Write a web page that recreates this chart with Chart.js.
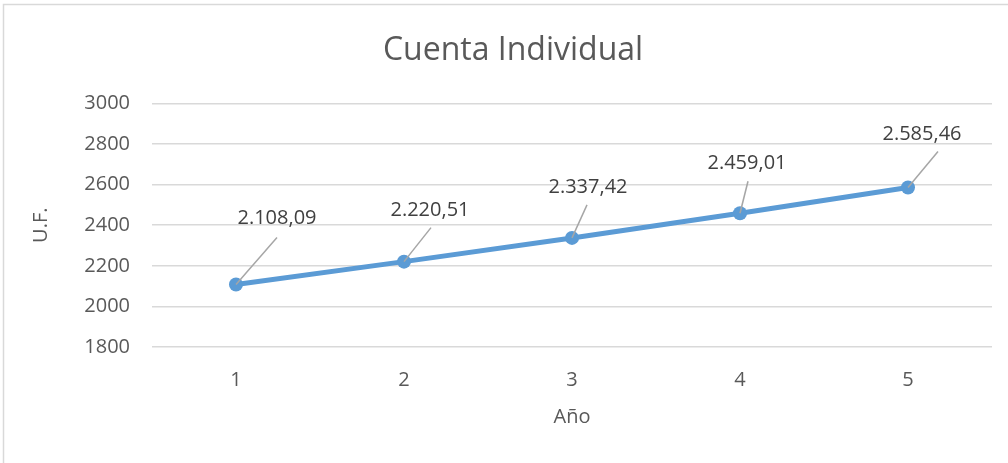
<!DOCTYPE html>
<html>
<head>
<meta charset="utf-8">
<script src="https://cdn.jsdelivr.net/npm/chart.js@4"></script>
<style>
  body { margin: 0; background: #fff; }
  #wrap { position: relative; width: 1008px; height: 463px; }
</style>
</head>
<body>
<div id="wrap"><canvas id="myLineChart"></canvas></div>
<script>
const years = ['1', '2', '3', '4', '5'];
const saldoUF = [2108.09, 2220.51, 2337.42, 2459.01, 2585.46];
const yTicks = [1800, 2000, 2200, 2400, 2600, 2800, 3000];

// where each data label sits relative to its point, and where its leader line ends
const labelOffsets = [[41, -66], [26, -51], [16, -51], [7, -50], [14, -53]];
const leaderEnds = [[41, -47], [27, -34], [15, -33], [8, -32], [30, -36]];

const FONT = 'Open Sans';
const GREY = '#595959';

// 2108.09 -> "2.108,09"
function formatUF(v) {
  const parts = v.toFixed(2).split('.');
  const intPart = parts[0].replace(/\B(?=(\d{3})+(?!\d))/g, '.');
  return intPart + ',' + parts[1];
}

const frameBorder = {
  id: 'frameBorder',
  beforeDraw: function(chart) {
    const ctx = chart.ctx;
    ctx.save();
    ctx.strokeStyle = '#d9d9d9';
    ctx.lineWidth = 1.5;
    ctx.beginPath();
    ctx.moveTo(3.5, chart.height);
    ctx.lineTo(3.5, 4.5);
    ctx.lineTo(chart.width, 4.5);
    ctx.stroke();
    ctx.restore();
  }
};

const dataLabels = {
  id: 'dataLabels',
  afterDatasetsDraw: function(chart) {
    const ctx = chart.ctx;
    const meta = chart.getDatasetMeta(0);
    ctx.save();
    meta.data.forEach(function(pt, i) {
      const off = labelOffsets[i];
      const end = leaderEnds[i];
      ctx.beginPath();
      ctx.strokeStyle = '#a6a6a6';
      ctx.lineWidth = 1.5;
      ctx.moveTo(pt.x, pt.y);
      ctx.lineTo(pt.x + end[0], pt.y + end[1]);
      ctx.stroke();
      ctx.fillStyle = '#404040';
      ctx.font = '20px "' + FONT + '"';
      ctx.textAlign = 'center';
      ctx.textBaseline = 'middle';
      ctx.fillText(formatUF(saldoUF[i]), pt.x + off[0], pt.y + off[1]);
    });
    ctx.restore();
  }
};

Chart.register(frameBorder, dataLabels);

const ctx = document.getElementById('myLineChart').getContext('2d');
const myLineChart = new Chart(ctx, {
  type: 'line',
  data: {
    labels: years,
    datasets: [{
      label: 'Cuenta Individual',
      data: saldoUF,
      borderColor: '#5b9bd5',
      backgroundColor: '#5b9bd5',
      borderWidth: 5,
      pointRadius: 7,
      pointBorderWidth: 0,
      pointBackgroundColor: '#5b9bd5',
      tension: 0,
      fill: false
    }]
  },
  options: {
    responsive: true,
    maintainAspectRatio: false,
    animation: false,
    layout: {
      padding: { left: 34, right: 16, top: 0, bottom: 0 }
    },
    plugins: {
      legend: { display: false },
      tooltip: { enabled: false },
      title: {
        display: true,
        text: 'Cuenta Individual',
        color: GREY,
        font: { family: FONT, size: 32, weight: '400', lineHeight: 1.2 },
        padding: { top: 32, bottom: 33 }
      }
    },
    scales: {
      x: {
        offset: true,
        grid: { display: false },
        border: { display: false },
        ticks: {
          color: GREY,
          padding: 13,
          font: { family: FONT, size: 20 }
        },
        title: {
          display: true,
          text: 'Año',
          color: GREY,
          font: { family: FONT, size: 20 },
          padding: { top: 0, bottom: 34 }
        },
        afterFit: function(scale) { scale.height = 463 - 347; }
      },
      y: {
        min: 1800,
        max: 3000,
        afterBuildTicks: function(scale) {
          scale.ticks = yTicks.map(function(v) { return { value: v }; });
        },
        grid: {
          color: '#d9d9d9',
          lineWidth: 1.5,
          drawTicks: false
        },
        border: { display: false },
        ticks: {
          color: GREY,
          padding: 22,
          font: { family: FONT, size: 20 },
          callback: function(value) { return String(value); }
        },
        title: {
          display: true,
          text: 'U.F.',
          color: GREY,
          font: { family: FONT, size: 20 },
          padding: { top: -5, bottom: 0 }
        },
        afterFit: function(scale) { scale.width = 152 - 34; }
      }
    }
  }
});
</script>
</body>
</html>
